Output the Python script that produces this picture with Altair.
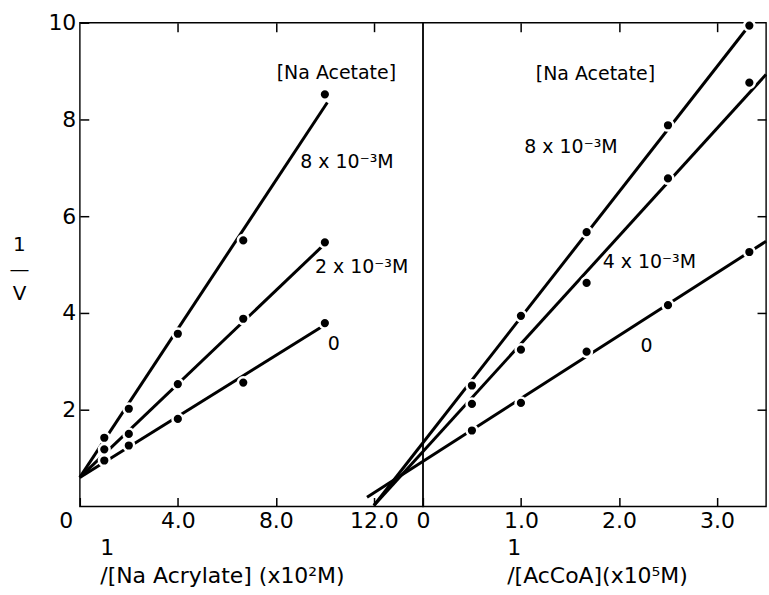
import altair as alt
import pandas as pd

FONT = "DejaVu Sans"

# ---------------- data ----------------
# Left panel: 1/[Na Acrylate] (x10^2 M^-1)
left_x = [1.0, 2.0, 4.0, 6.67, 10.0]
left_y_8 = [1.42, 2.02, 3.57, 5.50, 8.52]
left_y_2 = [1.18, 1.50, 2.53, 3.88, 5.46]
left_y_0 = [0.95, 1.26, 1.81, 2.56, 3.79]
left_series = ["8x10-3 M", "2x10-3 M", "0"]
left_line_x0 = [0.0, 0.0, 0.0]
left_line_y0 = [0.6, 0.6, 0.6]
left_line_x1 = [10.1, 9.9, 9.86]
left_line_y1 = [8.35, 5.38, 3.71]
left_labels = ["[Na Acetate]", "8 x 10⁻³M", "2 x 10⁻³M", "0"]
left_label_x = [10.47, 10.9, 11.5, 10.36]
left_label_y = [8.97, 7.11, 4.95, 3.36]

# Right panel: 1/[AcCoA] (x10^5 M^-1)
right_x = [0.5, 1.0, 1.67, 2.5, 3.33]
right_y_8 = [2.50, 3.94, 5.67, 7.88, 9.94]
right_y_4 = [2.12, 3.24, 4.62, 6.78, 8.76]
right_y_0 = [1.57, 2.14, 3.20, 4.16, 5.26]
right_series = ["8x10-3 M", "4x10-3 M", "0"]
right_line_x0 = [-0.5, -0.5, -0.57]
right_line_y0 = [0.02, 0.02, 0.19]
right_line_x1 = [3.35, 3.5, 3.5]
right_line_y1 = [10.0, 8.93, 5.48]
right_labels = ["[Na Acetate]", "8 x 10⁻³M", "4 x 10⁻³M", "0"]
right_label_x = [1.76, 1.51, 2.31, 2.28]
right_label_y = [8.93, 7.42, 5.05, 3.32]

LEFT_DOMAIN = [0, 14]
RIGHT_DOMAIN = [0, 3.5]
Y_DOMAIN = [0, 10]
W, H = 344, 485
TICK = 9  # inward ticks: axis shifted inward by TICK, ticks drawn back to the frame


def ax(**kw):
    base = dict(labelFont=FONT, labelFontSize=22, labelColor="black",
                titleFont=FONT, titleFontSize=22, titleColor="black",
                titleFontWeight="normal", domain=False, tickColor="black",
                tickWidth=1.5, tickSize=TICK, offset=-TICK,
                grid=False, labelOverlap=False, labelFlush=False, labelPadding=4)
    base.update(kw)
    return alt.Axis(**base)


def points_df(xs, ys_list, names):
    rows = []
    for name, ys in zip(names, ys_list):
        for x, y in zip(xs, ys):
            rows.append({"series": name, "x": x, "y": y})
    return pd.DataFrame(rows)


def panel(xdom, lines_df, pts_df, lab_df, bottom_axis, left_axis, top_axis, right_axis):
    xs = alt.Scale(domain=xdom, nice=False, zero=False)
    ys = alt.Scale(domain=Y_DOMAIN, nice=False, zero=False)
    lines = alt.Chart(lines_df).mark_rule(color="black", strokeWidth=3, clip=False).encode(
        x=alt.X("x0:Q", scale=xs, axis=bottom_axis),
        x2="x1:Q",
        y=alt.Y("y0:Q", scale=ys, axis=left_axis),
        y2="y1:Q",
    )
    pts = alt.Chart(pts_df).mark_circle(fill="black", stroke="white", strokeWidth=2.5,
                                        size=115, opacity=1, clip=False).encode(
        x=alt.X("x:Q", scale=xs, axis=top_axis),
        y=alt.Y("y:Q", scale=ys, axis=right_axis),
    )
    txt = alt.Chart(lab_df).mark_text(font=FONT, fontSize=19, color="black",
                                      align="center", baseline="middle").encode(
        x=alt.X("x:Q", scale=xs, axis=None),
        y=alt.Y("y:Q", scale=ys, axis=None),
        text="label:N",
    )
    return alt.layer(lines, pts, txt).resolve_scale(x="independent", y="independent").properties(
        width=W, height=H)


zero_shift = {"condition": {"test": "datum.value == 0", "value": -14}, "value": 0}

left = panel(
    LEFT_DOMAIN,
    pd.DataFrame({"series": left_series, "x0": left_line_x0, "y0": left_line_y0,
                  "x1": left_line_x1, "y1": left_line_y1}),
    points_df(left_x, [left_y_8, left_y_2, left_y_0], left_series),
    pd.DataFrame({"label": left_labels, "x": left_label_x, "y": left_label_y}),
    ax(orient="bottom", values=[0, 4, 8, 12],
       labelExpr="datum.value == 0 ? '0' : format(datum.value, '.1f')",
       labelOffset=zero_shift,
       title=["1", "/[Na Acrylate] (x10²M)"], titleAlign="left",
       titleX=20, titleY=40, titleBaseline="top", titleLineHeight=28),
    ax(orient="left", values=[2, 4, 6, 8, 10],
       title=["1", "—", "V"], titleAngle=0,
       titleFontSize=20, titleX=-70, titleY=222, titleAlign="center",
       titleBaseline="middle", titleLineHeight=25),
    ax(orient="top", values=[4, 8, 12], labels=False, title=None),
    None,
)

right = panel(
    RIGHT_DOMAIN,
    pd.DataFrame({"series": right_series, "x0": right_line_x0, "y0": right_line_y0,
                  "x1": right_line_x1, "y1": right_line_y1}),
    points_df(right_x, [right_y_8, right_y_4, right_y_0], right_series),
    pd.DataFrame({"label": right_labels, "x": right_label_x, "y": right_label_y}),
    ax(orient="bottom", values=[0, 1, 2, 3],
       labelExpr="datum.value == 0 ? '0' : format(datum.value, '.1f')",
       title=["1", "/[AcCoA](x10⁵M)"], titleAlign="left",
       titleX=84, titleY=40, titleBaseline="top", titleLineHeight=28),
    None,
    ax(orient="top", values=[1, 2, 3], labels=False, title=None),
    ax(orient="right", values=[2, 4, 6, 8], labels=False, title=None),
)

chart = alt.hconcat(left, right, spacing=0, bounds="flush").properties(
    padding={"left": 8, "top": 10, "right": 0, "bottom": 0},
    background="white",
).configure_view(stroke="black", strokeWidth=1.4)

chart.save("out.html", embed_options={"renderer": "svg", "actions": False})
